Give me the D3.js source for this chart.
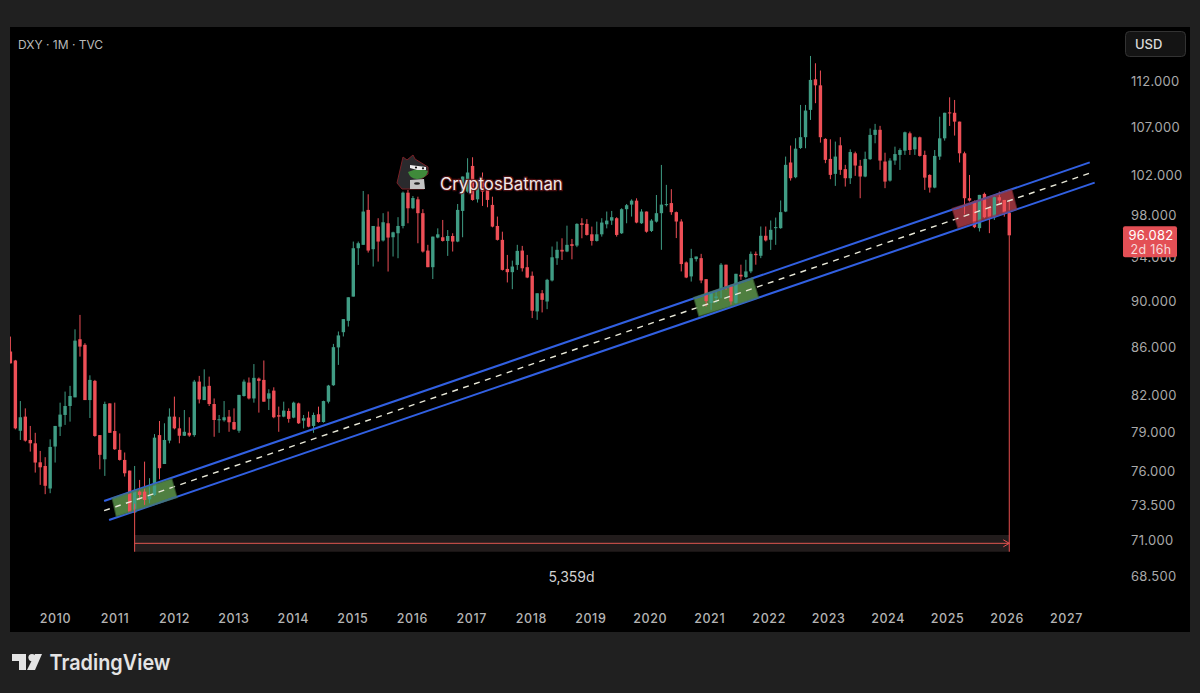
<!DOCTYPE html>
<html>
<head>
<meta charset="utf-8">
<script src="https://cdn.jsdelivr.net/npm/d3@7"></script>
<style>
  html, body { margin: 0; padding: 0; background: #202020; overflow: hidden; }
  text { font-family: Inter, "Noto Sans", sans-serif; }
</style>
</head>
<body>
<svg id="main-chart"></svg>
<script>
// monthly DXY candles, first one is Apr 2009, last one Jan 2026
const opens = [
  85.61,84.85,79.13,80.25,78.41,78.15,76.69,76.41,74.72,77.90,
  79.45,80.38,81.10,81.80,86.66,86.18,81.58,83.15,78.79,76.92,
  81.31,79.11,77.64,76.87,76.06,72.96,74.49,74.49,73.92,74.24,
  78.79,76.56,78.36,80.25,79.32,78.74,78.97,78.79,83.09,81.58,
  82.74,81.26,79.96,79.96,80.25,79.82,79.13,81.91,83.01,81.71,
  83.34,83.23,81.69,82.35,80.36,80.25,80.70,80.17,81.31,79.93,
  80.17,79.51,80.44,79.82,81.45,82.79,85.96,87.27,88.26,90.41,
  94.86,95.18,98.54,94.77,96.92,95.59,97.24,95.90,96.28,96.98,
  100.24,98.70,99.58,98.22,94.64,93.09,95.87,95.90,95.55,96.02,
  95.49,98.44,100.35,102.94,99.58,101.53,100.51,99.03,96.98,95.65,
  92.93,92.63,93.30,94.64,93.09,92.30,89.09,90.71,89.97,91.87,
  93.92,94.71,94.55,95.24,95.11,97.24,97.18,96.18,95.55,96.18,
  97.14,97.50,97.73,96.28,98.61,99.06,99.45,97.24,98.38,96.50,
  97.40,98.22,99.01,99.21,98.32,97.41,93.53,92.24,93.84,93.93,
  91.99,89.83,90.27,91.02,93.32,91.32,89.83,92.39,92.18,92.70,
  94.33,94.15,96.04,95.66,96.77,96.77,98.38,103.29,101.79,104.79,
  105.92,108.83,112.19,111.52,105.74,103.66,102.13,105.07,102.61,101.69,
  104.24,102.95,101.86,103.63,106.16,106.70,103.39,101.45,103.49,104.07,
  104.51,106.33,104.65,105.91,104.07,102.02,100.75,103.90,105.80,108.56,
  108.52,107.57,104.24,99.69,99.36,96.77,100.12,98.80,97.82,99.79,
  99.52,98.27
];
const highs = [
  86.89,84.90,81.50,80.91,79.51,78.97,77.56,77.08,78.46,79.51,
  81.37,82.27,82.74,87.52,88.78,86.32,83.61,83.23,78.79,81.45,
  81.31,81.37,78.92,77.44,76.06,76.41,75.36,76.74,75.49,78.87,
  79.90,79.72,80.91,81.86,80.20,80.78,80.20,83.23,83.56,84.11,
  83.50,81.71,80.38,81.50,80.78,80.91,82.00,83.26,83.43,84.55,
  83.43,84.85,82.46,82.62,81.05,81.45,80.91,81.45,81.37,80.38,
  80.65,80.57,81.05,81.53,82.82,86.26,87.33,88.41,90.35,95.49,
  95.49,100.41,100.08,96.98,97.73,98.22,98.38,96.43,97.83,100.35,
  100.51,99.91,99.84,98.61,95.18,95.96,96.75,97.56,96.59,96.28,
  99.12,101.86,103.73,103.83,101.53,102.27,100.51,99.84,97.89,96.43,
  94.23,93.70,95.18,95.08,94.23,92.69,90.71,91.00,92.02,95.02,
  95.49,95.80,97.01,95.74,97.24,97.73,97.64,96.92,97.40,97.73,
  98.38,98.44,97.83,98.70,99.12,99.58,99.68,98.61,98.38,97.64,
  100.01,103.04,101.02,100.59,98.38,97.63,93.62,94.80,94.08,94.33,
  91.99,90.72,90.87,93.47,93.32,91.47,92.48,93.32,93.78,94.55,
  94.55,96.93,96.93,97.51,97.79,99.47,103.90,105.04,105.81,109.37,
  109.37,114.82,113.99,113.17,105.81,105.70,105.46,105.92,103.05,104.65,
  104.41,103.56,104.41,106.84,107.33,107.12,104.30,103.73,104.93,104.75,
  106.51,106.51,105.98,105.98,104.51,102.09,104.58,108.10,108.52,110.20,
  109.91,107.57,104.41,102.02,99.46,100.02,100.25,98.86,99.85,100.35,
  99.52,99.52
];
const lows = [
  84.61,79.24,78.41,78.28,77.51,75.91,74.99,74.30,74.37,76.67,
  78.72,79.59,79.85,81.80,85.18,81.58,80.14,78.66,76.16,75.66,
  78.97,77.64,76.82,75.61,72.91,72.91,73.87,73.51,73.63,74.17,
  75.41,76.56,78.15,79.24,78.15,78.72,78.66,78.66,81.31,81.58,
  81.10,78.66,78.97,79.85,79.05,79.19,78.97,81.86,81.63,81.37,
  80.57,81.45,80.78,80.12,79.05,80.20,79.77,80.12,79.67,79.32,
  79.40,78.97,79.77,79.77,81.31,82.74,84.48,86.90,87.76,90.41,
  93.30,95.18,94.45,93.15,93.61,95.49,92.69,94.08,93.92,96.75,
  97.24,98.61,95.33,94.45,93.09,92.00,95.80,95.49,94.14,94.55,
  95.43,95.90,100.24,99.45,99.26,98.93,98.80,96.85,95.59,92.78,
  91.69,91.08,92.84,92.69,92.08,88.50,88.35,89.00,89.29,91.78,
  93.30,93.76,94.49,93.82,94.96,95.80,96.06,95.11,95.49,95.96,
  96.75,97.08,95.96,96.21,97.24,97.89,97.24,97.18,96.34,96.40,
  97.31,94.71,98.88,98.06,95.82,92.70,92.08,91.77,93.62,91.62,
  89.53,89.23,89.83,90.27,91.02,89.68,89.68,91.93,92.08,92.54,
  93.32,93.93,95.50,94.70,95.18,96.71,98.32,101.45,101.69,104.69,
  104.76,107.75,109.56,105.35,103.22,101.59,100.92,102.03,100.85,101.11,
  101.93,99.69,101.79,103.56,105.28,102.54,100.69,101.35,103.05,102.53,
  104.07,104.07,104.07,103.90,100.52,100.25,100.68,103.56,105.56,107.11,
  106.09,103.29,98.10,99.36,96.77,96.45,97.72,96.29,97.56,99.03,
  97.88,96.08
];
const closes = [
  84.61,79.32,80.20,78.36,78.15,76.67,76.31,74.92,77.87,79.51,
  80.41,81.10,81.91,86.54,86.03,81.58,83.23,78.72,77.26,81.26,
  78.97,77.69,76.87,75.86,72.91,74.62,74.24,73.87,74.17,78.59,
  76.24,78.41,80.25,79.32,78.74,79.05,78.76,83.09,81.63,82.68,
  81.26,79.98,80.04,80.20,79.80,79.24,82.00,83.09,81.71,83.40,
  83.15,81.45,82.13,80.20,80.25,80.73,80.07,81.37,79.72,80.12,
  79.45,80.38,79.82,81.50,82.76,85.98,86.99,88.41,90.35,94.86,
  95.33,98.38,94.64,96.98,95.49,97.34,95.87,96.37,96.98,100.24,
  98.70,99.71,98.22,94.55,93.09,95.96,96.18,95.55,96.02,95.49,
  98.54,101.86,102.27,99.52,101.36,100.35,99.52,96.92,95.65,92.84,
  92.63,93.15,94.61,92.99,92.14,89.15,90.71,90.12,91.93,94.01,
  94.71,94.55,95.18,95.08,97.18,97.08,96.12,95.55,96.18,97.31,
  97.50,97.83,96.12,98.61,99.00,99.45,97.31,98.38,96.43,97.50,
  98.22,99.06,99.11,98.32,97.41,93.38,92.14,93.93,94.08,91.87,
  90.00,90.72,90.42,93.32,91.26,89.98,92.48,92.24,92.70,94.33,
  94.21,96.04,95.60,96.61,96.87,98.32,103.05,101.69,104.72,105.92,
  108.76,112.12,111.52,105.92,103.56,102.03,103.90,102.54,101.69,104.37,
  102.98,101.86,103.66,106.16,106.70,103.49,101.35,103.49,104.16,104.58,
  106.44,104.58,105.91,103.97,101.75,100.75,103.97,105.80,108.52,108.52,
  107.57,104.24,99.69,99.46,96.86,100.02,97.82,97.82,99.79,99.46,
  98.27,96.082
];

const priceTicks = [112, 107, 102, 98, 94, 90, 86, 82, 79, 76, 73.5, 71, 68.5];
const years = d3.range(2010, 2028);
const lastPrice = 96.082;

// drawings, as [months since Apr 2009, price]
const channelTop = [[18.86, 73.8], [217.2, 103.3]];
const channelMid = [[18.86, 73.09], [217.05, 102.18]];
const channelBottom = [[19.86, 72.42], [218.19, 101.25]];
const greenBoxA = [[20.55, 73.99], [32.43, 75.41], [33.44, 74.07], [21.36, 72.71]];
const greenBoxB = [[137.6, 90.30], [149.3, 92.06], [150.45, 90.34], [138.6, 88.70]];
const redBox = [[189.6, 98.65], [201.45, 100.51], [202.45, 98.65], [190.7, 96.83]];
const measureFrom = 25, measureTo = 201;
const measureBand = [71.35, 70.17], measureLine = 70.76;

const width = 1200, height = 693;

const svg = d3.select("#main-chart")
    .attr("width", width)
    .attr("height", height)
    .style("display", "block");

svg.append("rect")
    .attr("width", width).attr("height", height).attr("fill", "#202020");
svg.append("rect")
    .attr("x", 10).attr("y", 27).attr("width", 1180).attr("height", 605).attr("fill", "#000");

const defs = svg.append("defs");
defs.append("clipPath").attr("id", "pane")
  .append("rect").attr("x", 10).attr("y", 27).attr("width", 1105).attr("height", 575);
// the reference is a soft screenshot
defs.append("filter").attr("id", "soft")
  .append("feGaussianBlur").attr("stdDeviation", 0.35);

const x = d3.scaleLinear().domain([0, 213]).range([10.4, 1068.9]);
const y = d3.scaleLog().domain([68.5, 112]).range([576, 81]);
const yearX = d3.scaleLinear().domain([2010, 2027]).range([55, 1066]);
const line = d3.line().x(d => x(d[0])).y(d => y(d[1]));

const candles = closes.map((c, i) => ({ i, o: opens[i], h: highs[i], l: lows[i], c }));
const green = "#3f9c84", red = "#ee4f57";
const boxes = [[greenBoxA, "#4f7f40"], [greenBoxB, "#4f7f40"], [redBox, "#92323a"]];

const clip = svg.append("g").attr("clip-path", "url(#pane)");
const pane = clip.append("g").attr("filter", "url(#soft)");

// measure band goes behind everything
pane.append("rect")
    .attr("x", x(measureFrom)).attr("width", x(measureTo) - x(measureFrom))
    .attr("y", y(measureBand[0])).attr("height", y(measureBand[1]) - y(measureBand[0]))
    .attr("fill", "#221d1e");

pane.selectAll("path.box")
  .data(boxes)
  .join("path")
    .attr("class", "box")
    .attr("d", d => line(d[0]) + "Z")
    .attr("fill", d => d[1]);

pane.selectAll("line.wick")
  .data(candles)
  .join("line")
    .attr("class", "wick")
    .attr("x1", d => x(d.i)).attr("x2", d => x(d.i))
    .attr("y1", d => y(d.h)).attr("y2", d => y(d.l))
    .attr("stroke", d => d.c >= d.o ? green : red)
    .attr("stroke-width", 1);

pane.selectAll("rect.body")
  .data(candles)
  .join("rect")
    .attr("class", "body")
    .attr("x", d => x(d.i) - 1.7)
    .attr("width", 3.4)
    .attr("y", d => y(Math.max(d.o, d.c)))
    .attr("height", d => Math.max(1, Math.abs(y(d.o) - y(d.c))))
    .attr("fill", d => d.c >= d.o ? green : red);

// channel
pane.selectAll("path.channel")
  .data([channelTop, channelBottom])
  .join("path")
    .attr("class", "channel")
    .attr("d", line)
    .attr("fill", "none")
    .attr("stroke", "#3160e2")
    .attr("stroke-width", 2);
pane.append("path")
    .attr("d", line(channelMid))
    .attr("fill", "none")
    .attr("stroke", "#e8e8d8")
    .attr("stroke-width", 1.4)
    .attr("stroke-dasharray", "6 5.5");

// box edges tint the channel where they cross it
pane.selectAll("path.edge")
  .data(boxes)
  .join("path")
    .attr("class", "edge")
    .attr("d", d => line(d[0]) + "Z")
    .attr("fill", "none")
    .attr("stroke", d => d[1])
    .attr("stroke-width", 2)
    .attr("stroke-opacity", 0.6);

// measure tool
pane.append("path")
    .attr("d", line([[measureFrom, measureLine], [measureTo, measureLine]]))
    .attr("stroke", "#e0564f").attr("stroke-width", 1).attr("fill", "none");
pane.selectAll("line.measure")
  .data([[measureFrom, 73.6], [measureTo, lastPrice]])
  .join("line")
    .attr("class", "measure")
    .attr("x1", d => x(d[0])).attr("x2", d => x(d[0]))
    .attr("y1", d => y(d[1])).attr("y2", y(measureBand[1]))
    .attr("stroke", "#e8504f").attr("stroke-width", 1);
pane.append("path")
    .attr("d", `M${x(measureTo) - 6},${y(measureLine) - 3.5}L${x(measureTo)},${y(measureLine)}L${x(measureTo) - 6},${y(measureLine) + 3.5}`)
    .attr("fill", "none").attr("stroke", "#e8504f").attr("stroke-width", 1);
clip.append("text")
    .attr("x", 571.5).attr("y", 582)
    .attr("text-anchor", "middle")
    .attr("font-size", 14)
    .attr("fill", "#d2d2d2")
    .text("5,359d");

// axes
const yAxis = d3.axisRight(y)
    .tickValues(priceTicks)
    .tickFormat(d3.format(".3f"))
    .tickSize(0)
    .tickPadding(0);
svg.append("g")
    .attr("transform", "translate(1131,0)")
    .call(yAxis)
    .call(g => g.select(".domain").remove())
    .call(g => g.selectAll("text")
        .attr("font-family", "Inter, sans-serif")
        .attr("font-size", 13)
        .attr("letter-spacing", 0.3)
        .attr("fill", "#a9a9a9"));

const xAxis = d3.axisBottom(yearX)
    .tickValues(years)
    .tickFormat(d3.format("d"))
    .tickSize(0)
    .tickPadding(0);
svg.append("g")
    .attr("transform", "translate(0,614)")
    .call(xAxis)
    .call(g => g.select(".domain").remove())
    .call(g => g.selectAll("text")
        .attr("font-family", "Inter, sans-serif")
        .attr("font-size", 12.5)
        .attr("font-weight", 500)
        .attr("letter-spacing", 0.6)
        .attr("fill", "#b4b4b4"));

// last price tag
const tag = svg.append("g");
tag.append("rect")
    .attr("x", 1123).attr("y", y(lastPrice) - 9).attr("width", 54).attr("height", 31)
    .attr("rx", 2).attr("fill", "#e34f55");
tag.append("text")
    .attr("x", 1151).attr("y", y(lastPrice) + 4.5)
    .attr("text-anchor", "middle").attr("font-size", 13).attr("letter-spacing", 0.3)
    .attr("fill", "#fff").text(d3.format(".3f")(lastPrice));
tag.append("text")
    .attr("x", 1151).attr("y", y(lastPrice) + 18.5)
    .attr("text-anchor", "middle").attr("font-size", 12.5).attr("letter-spacing", 0.3)
    .attr("fill", "#f6d9da").text("2d 16h");

// header
svg.append("text")
    .attr("x", 18).attr("y", 49)
    .attr("font-size", 12)
    .attr("fill", "#b9b9b9")
    .text("DXY · 1M · TVC");

svg.append("rect")
    .attr("x", 1125.5).attr("y", 31.5).attr("width", 60).attr("height", 25).attr("rx", 4)
    .attr("fill", "#141414").attr("stroke", "#333");
svg.append("text")
    .attr("x", 1135).attr("y", 49)
    .attr("font-size", 13).attr("font-weight", 500)
    .attr("fill", "#dcdcdc").text("USD");

// avatar and name
const avatar = svg.append("g").attr("transform", "translate(390,150)");
avatar.append("path")
    .attr("d", "M7,33L13,7L17,10L23,5L25,9L38,17L38,24L30,30L34,39L12,39Z")
    .attr("fill", "#2a2a2d").attr("stroke", "#7a2026").attr("stroke-width", 1);
avatar.append("path").attr("d", "M20,30L34,29L35,39L20,39Z").attr("fill", "#c4c4c4");
avatar.append("path").attr("d", "M18,22Q28,17 38,21Q36,29 27,29Q20,29 18,22Z").attr("fill", "#3f8a3a");
avatar.append("path").attr("d", "M20,15L36,17L36,20L27,20L20,18Z").attr("fill", "#eee");
avatar.append("circle").attr("cx", 26).attr("cy", 17.5).attr("r", 1.1).attr("fill", "#111");
avatar.append("circle").attr("cx", 33).attr("cy", 18.3).attr("r", 1.1).attr("fill", "#111");
avatar.append("ellipse").attr("cx", 27).attr("cy", 33.5).attr("rx", 3).attr("ry", 1.3).attr("fill", "#222");

svg.append("text")
    .attr("x", 440).attr("y", 189.5)
    .attr("font-family", "Open Sans, sans-serif")
    .attr("font-size", 16.8)
    .attr("fill", "#f2e8e8")
    .attr("stroke", "#5c1216").attr("stroke-width", 2.5)
    .attr("paint-order", "stroke")
    .attr("stroke-opacity", 0.8)
    .text("CryptosBatman");

// TradingView logo
const logo = svg.append("g").attr("transform", "translate(12,654)").attr("fill", "#e4e4e4");
logo.append("path").attr("d", "M0,0H14V16H7V7H0Z");
logo.append("circle").attr("cx", 20).attr("cy", 3.6).attr("r", 3.6);
logo.append("path").attr("d", "M23,0H30L23,16H15Z");
svg.append("text")
    .attr("x", 49.5).attr("y", 670)
    .attr("font-size", 22)
    .attr("font-weight", 600)
    .attr("textLength", 121)
    .attr("lengthAdjust", "spacingAndGlyphs")
    .attr("fill", "#e4e4e4")
    .text("TradingView");
</script>
</body>
</html>
